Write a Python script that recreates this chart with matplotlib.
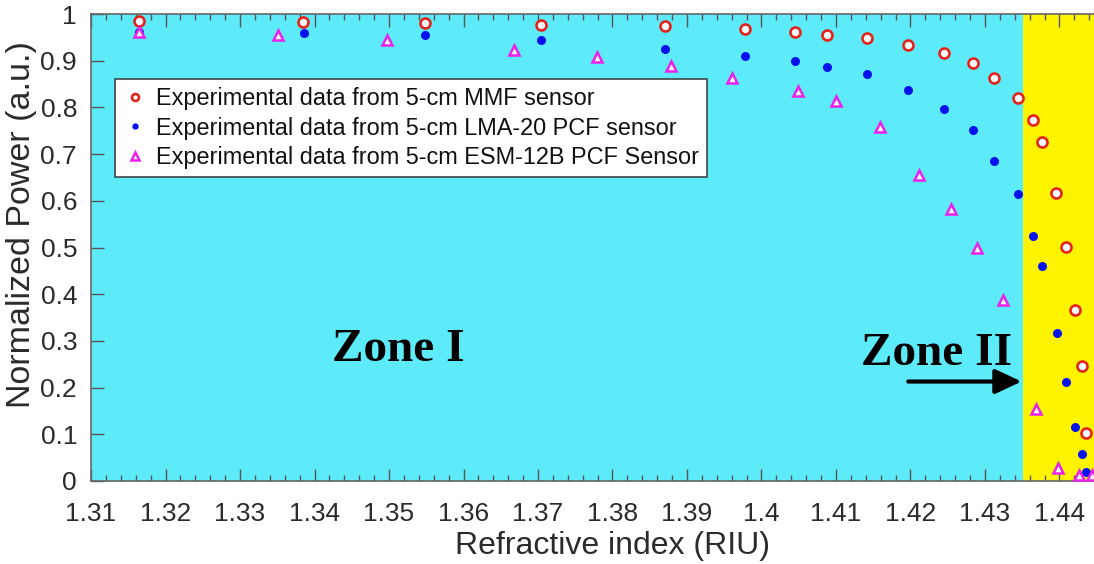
import matplotlib
matplotlib.use("Agg")
import matplotlib.pyplot as plt
from matplotlib.ticker import MultipleLocator, FixedLocator

# ---------------- data ----------------
mmf_x = [1.3164, 1.3385, 1.3548, 1.3704, 1.3870, 1.3978, 1.4045, 1.4088, 1.4142,
         1.4196, 1.4245, 1.4284, 1.4312, 1.4344, 1.4365, 1.4377, 1.4395, 1.4409,
         1.4421, 1.4430, 1.4435]
mmf_y = [0.986, 0.983, 0.981, 0.976, 0.975, 0.968, 0.961, 0.956, 0.949,
         0.934, 0.917, 0.896, 0.864, 0.821, 0.774, 0.725, 0.616, 0.502,
         0.366, 0.246, 0.103]

lma_x = [1.3165, 1.3386, 1.3548, 1.3704, 1.3870, 1.3978, 1.4045, 1.4088, 1.4142,
         1.4196, 1.4245, 1.4284, 1.4312, 1.4344, 1.4365, 1.4377, 1.4396, 1.4409,
         1.4421, 1.4430, 1.4435]
lma_y = [0.962, 0.959, 0.954, 0.944, 0.926, 0.911, 0.899, 0.887, 0.872,
         0.837, 0.796, 0.751, 0.685, 0.615, 0.525, 0.460, 0.316, 0.211,
         0.116, 0.057, 0.020]

esm_x = [1.3165, 1.3351, 1.3497, 1.3668, 1.3779, 1.3879, 1.3960, 1.4049, 1.4100,
         1.4159, 1.4212, 1.4255, 1.4289, 1.4324, 1.4368, 1.4398, 1.4426, 1.4443]
esm_y = [0.961, 0.954, 0.944, 0.923, 0.907, 0.889, 0.862, 0.835, 0.814,
         0.757, 0.656, 0.583, 0.500, 0.388, 0.154, 0.027, 0.013, 0.013]

labels = ["Experimental data from 5-cm MMF sensor",
          "Experimental data from 5-cm LMA-20 PCF sensor",
          "Experimental data from 5-cm ESM-12B PCF Sensor"]

x_ticks = [1.31, 1.32, 1.33, 1.34, 1.35, 1.36, 1.37, 1.38, 1.39, 1.40, 1.41, 1.42,
           1.43, 1.44]
x_ticklabels = ["1.31", "1.32", "1.33", "1.34", "1.35", "1.36", "1.37", "1.38", "1.39",
                "1.4", "1.41", "1.42", "1.43", "1.44"]
y_ticks = [0, 0.1, 0.2, 0.3, 0.4, 0.5, 0.6, 0.7, 0.8, 0.9, 1.0]
y_ticklabels = ["0", "0.1", "0.2", "0.3", "0.4", "0.5", "0.6", "0.7", "0.8", "0.9", "1"]

zone_boundary = 1.4351
x_min, x_max = 1.31, 1.45

# ---------------- style ----------------
plt.rcParams['font.family'] = ['Liberation Sans', 'DejaVu Sans']
cyan = '#5EEBF9'
yellow = '#FFF400'
red = '#E3241C'
blue = '#0412EE'
magenta = '#EC1FEC'
txt = '#2b2b2b'

px_per_unit = 7450.0
ax_left_px = 91
ax_width_px = (x_max - x_min) * px_per_unit  # axes extends beyond the (cropped) figure

fig = plt.figure(figsize=(10.94, 5.64), dpi=100)
ax = fig.add_axes([ax_left_px / 1094, (564 - 481) / 564, ax_width_px / 1094, 467 / 564])

ax.axvspan(x_min, zone_boundary, color=cyan, zorder=0, lw=0)
ax.axvspan(zone_boundary, x_max, color=yellow, zorder=0, lw=0)

ax.plot(mmf_x, mmf_y, linestyle='none', marker='o', ms=7.2, mew=1.9,
        mec=red, mfc='white', label=labels[0], zorder=3)
ax.plot(lma_x, lma_y, linestyle='none', marker='o', ms=6.5, mew=0,
        mfc=blue, mec=blue, label=labels[1], zorder=4)
ax.plot(esm_x, esm_y, linestyle='none', marker='^', ms=7.5, mew=1.8,
        mec=magenta, mfc='white', label=labels[2], zorder=5)

ax.set_xlim(x_min, x_max)
ax.set_ylim(0, 1)
ax.xaxis.set_major_locator(FixedLocator(x_ticks))
ax.set_xticklabels(x_ticklabels)
ax.xaxis.set_minor_locator(MultipleLocator(0.002))
ax.yaxis.set_major_locator(FixedLocator(y_ticks))
ax.set_yticklabels(y_ticklabels)

ax.tick_params(which='both', direction='in', top=True, right=True, colors='#555555',
               labelcolor=txt, labelsize=19)
ax.tick_params(which='major', length=9, width=1.0)
ax.tick_params(which='minor', length=4.5, width=1.0)
ax.tick_params(axis='x', which='major', pad=15)
ax.tick_params(axis='y', which='major', pad=10)
for s in ax.spines.values():
    s.set_color('#666666')
    s.set_linewidth(1.2)

ax.set_xlabel("Refractive index (RIU)", fontsize=23, color=txt, labelpad=4)
ax.set_ylabel("Normalized Power (a.u.)", fontsize=24.5, color=txt)
ax.yaxis.set_label_coords((37 - ax_left_px) / ax_width_px, 0.55)

leg = ax.legend(loc='upper left', bbox_to_anchor=(24 / ax_width_px, 0.861), fontsize=16.9,
                frameon=True, fancybox=False, edgecolor='#444444', framealpha=1,
                markerscale=0.7, handlelength=1.0, handletextpad=0.4,
                borderpad=0.35, labelspacing=0.28, borderaxespad=0)
leg.get_frame().set_linewidth(1.2)
for t in leg.get_texts():
    t.set_color('#111111')

ax.text(1.3423, 0.257, "Zone I", fontfamily=['Liberation Serif', 'DejaVu Serif'],
        fontweight='bold', fontsize=34, color='black', ha='left', va='baseline', zorder=6)
ax.text(1.4134, 0.248, "Zone II", fontfamily=['Liberation Serif', 'DejaVu Serif'],
        fontweight='bold', fontsize=34, color='black', ha='left', va='baseline', zorder=6)
ax.annotate("", xy=(1.4349, 0.213), xytext=(1.4197, 0.213),
            arrowprops=dict(arrowstyle='-|>,head_length=1.6,head_width=0.75',
                            color='black', lw=3, shrinkA=0, shrinkB=0), zorder=6)

fig.savefig("out.png", dpi=100)
